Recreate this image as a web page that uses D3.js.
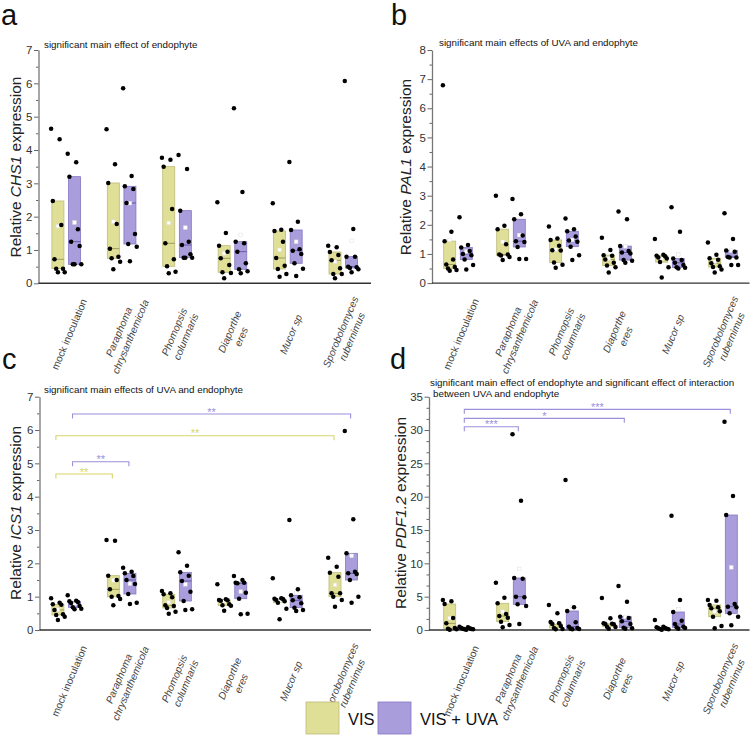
<!DOCTYPE html>
<html>
<head>
<meta charset="utf-8">
<script src="https://cdn.jsdelivr.net/npm/d3@7"></script>
<style>
body { margin: 0; background: #fff; }
svg text { font-family: "Liberation Sans", Arial, sans-serif; }
</style>
</head>
<body>
<svg id="fig" width="750" height="742"></svg>
<script>
var svg = d3.select('svg#fig');

// categories and tick labels
var categories = ["mock", "paraphoma", "phomopsis", "diaporthe", "mucor", "sporobolomyces"];
var category_lines = [
  ["mock inoculation"],
  ["Paraphoma", "chrysanthemicola"],
  ["Phomopsis", "columnaris"],
  ["Diaporthe", "eres"],
  ["Mucor sp"],
  ["Sporobolomyces", "rubernimus"]
];
var series_names = ["VIS", "VIS + UVA"];

// a: CHS1
var chs1_vis = [
  [4.64, 4.32, 2.47, 1.75, 0.72, 0.44, 0.44, 0.33, 0.33],
  [4.62, 3.57, 3.01, 1.78, 1.04, 0.8, 0.75, 0.65, 0.42],
  [3.77, 3.71, 3.5, 2.23, 1.2, 0.72, 0.51, 0.35, 0.3],
  [2.43, 1.51, 1.13, 0.95, 0.75, 0.55, 0.33, 0.31, 0.15],
  [2.4, 1.61, 1.57, 1.25, 0.76, 0.53, 0.43, 0.28, 0.2],
  [1.13, 1.08, 0.94, 0.85, 0.69, 0.45, 0.28, 0.28, 0.15]
];
var chs1_uva = [
  [3.89, 3.63, 3.2, 1.62, 1.25, 1.12, 0.57, 0.57, 0.57],
  [5.85, 3.22, 2.91, 2.83, 2.41, 1.48, 1.18, 1.1, 0.66],
  [3.85, 3.43, 2.18, 1.25, 1.15, 0.87, 0.77, 0.77, 0.77],
  [5.25, 2.74, 1.25, 1.2, 0.95, 0.6, 0.42, 0.36, 0.3],
  [3.64, 1.85, 1.6, 1.02, 0.98, 0.88, 0.6, 0.44, 0.22],
  [6.07, 1.63, 0.8, 0.8, 0.5, 0.48, 0.46, 0.42, 0.33]
];

// b: PAL1
var pal1_vis = [
  [6.79, 1.76, 1.44, 0.81, 0.64, 0.55, 0.5, 0.45, 0.42],
  [3.0, 1.97, 1.85, 1.33, 0.98, 0.98, 0.95, 0.9, 0.79],
  [1.94, 1.53, 1.48, 1.28, 1.13, 1.12, 0.71, 0.63, 0.53],
  [1.56, 1.14, 0.96, 0.94, 0.81, 0.7, 0.6, 0.54, 0.36],
  [1.51, 0.97, 0.94, 0.92, 0.88, 0.84, 0.72, 0.54, 0.19],
  [1.39, 0.97, 0.85, 0.8, 0.68, 0.58, 0.55, 0.47, 0.36]
];
var pal1_uva = [
  [2.26, 1.31, 1.22, 1.1, 1.0, 0.96, 0.81, 0.62, 0.47],
  [2.89, 2.36, 2.19, 1.63, 1.44, 1.41, 1.24, 0.83, 0.83],
  [2.22, 1.85, 1.78, 1.6, 1.46, 1.42, 1.25, 0.96, 0.79],
  [2.46, 2.19, 1.27, 1.1, 1.05, 1.02, 0.79, 0.77, 0.7],
  [2.6, 1.76, 0.84, 0.79, 0.7, 0.62, 0.54, 0.53, 0.5],
  [2.4, 1.51, 1.12, 1.08, 0.9, 0.88, 0.88, 0.62, 0.62]
];

// c: ICS1
var ics1_vis = [
  [0.95, 0.82, 0.77, 0.76, 0.6, 0.47, 0.45, 0.4, 0.3],
  [2.7, 2.68, 1.63, 1.5, 1.22, 1.02, 1.0, 0.93, 0.74],
  [1.17, 1.1, 1.07, 0.98, 0.74, 0.72, 0.66, 0.55, 0.49],
  [1.37, 0.92, 0.9, 0.89, 0.88, 0.77, 0.74, 0.73, 0.58],
  [1.55, 0.95, 0.94, 0.93, 0.9, 0.86, 0.82, 0.64, 0.32],
  [2.17, 1.9, 1.72, 1.6, 1.1, 1.1, 1.0, 0.9, 0.7]
];
var ics1_uva = [
  [1.04, 0.88, 0.86, 0.84, 0.81, 0.72, 0.68, 0.64, 0.62],
  [1.87, 1.75, 1.7, 1.62, 1.5, 1.38, 1.08, 0.82, 0.78],
  [2.33, 1.93, 1.73, 1.63, 1.47, 1.15, 0.87, 0.62, 0.6],
  [1.62, 1.5, 1.42, 1.42, 1.4, 1.12, 0.94, 0.49, 0.47],
  [3.3, 1.22, 1.04, 0.98, 0.89, 0.8, 0.67, 0.6, 0.57],
  [5.97, 3.32, 2.3, 1.75, 1.7, 1.68, 1.5, 1.0, 0.82]
];
var ics1_brackets = [
  ["uva", 0, 5, 6.48, "**"],
  ["vis", 0, 5, 5.83, "**"],
  ["uva", 0, 1, 5.05, "**"],
  ["vis", 0, 1, 4.68, "**"]
];

// d: PDF1.2
var pdf12_vis = [
  [4.5, 4.3, 3.9, 1.8, 1.0, 0.3, 0.2, 0.1, 0.05],
  [7.1, 4.85, 4.0, 2.4, 2.1, 1.85, 1.25, 0.75, 0.4],
  [3.75, 2.5, 1.2, 1.0, 0.9, 0.6, 0.3, 0.15, 0.1],
  [4.8, 1.75, 1.0, 0.95, 0.9, 0.85, 0.5, 0.45, 0.2],
  [1.5, 0.5, 0.4, 0.3, 0.25, 0.2, 0.15, 0.1, 0.05],
  [4.5, 4.4, 3.75, 3.4, 3.25, 2.8, 2.0, 0.6, 0.25]
];
var pdf12_uva = [
  [0.5, 0.4, 0.3, 0.25, 0.2, 0.15, 0.1, 0.1, 0.05],
  [29.35, 19.4, 7.8, 7.7, 5.0, 4.9, 3.85, 3.6, 0.9],
  [22.5, 3.4, 2.85, 1.15, 0.5, 0.3, 0.2, 0.15, 0.1],
  [6.6, 4.25, 2.0, 1.8, 1.3, 0.9, 0.35, 0.25, 0.2],
  [17.15, 4.5, 2.7, 1.4, 0.9, 0.5, 0.4, 0.3, 0.2],
  [31.25, 20.1, 17.25, 3.9, 3.5, 3.4, 2.5, 2.0, 0.7]
];
var pdf12_brackets = [
  ["uva", 0, 5, 33.1, "***"],
  ["uva", 0, 3, 31.75, "*"],
  ["uva", 0, 1, 30.5, "***"]
];

var colors = {
  vis: {fill: "#e0df98", stroke: "#bdbb78", median: "#8f8d4c", mark: "#d8d66c"},
  uva: {fill: "#aa9ddb", stroke: "#8576c2", median: "#54479a", mark: "#9c8fdc"}
};

svg.append('rect').attr('width', 750).attr('height', 742).attr('fill', '#fff');

function stats(values){
  var s = values.slice().sort(d3.ascending);
  return {q1: d3.quantile(s, 0.25), med: d3.quantile(s, 0.5),
          q3: d3.quantile(s, 0.75), mean: d3.mean(s)};
}

function draw_panel(p){
  var g = svg.append('g');
  var x = d3.scaleBand().domain(categories).range(p.xrange);
  var y = d3.scaleLinear().domain(p.ydomain).range(p.yrange);
  var base = p.yrange[0];

  // y axis, minor then major ticks
  g.append('g').attr('transform', 'translate(' + p.left + ',0)')
    .call(d3.axisLeft(y).tickValues(p.minor).tickSize(2.5).tickSizeOuter(0).tickFormat(''))
    .call(function(a){ a.select('.domain').remove(); a.selectAll('line').attr('stroke', '#666'); });
  var ya = g.append('g').attr('transform', 'translate(' + p.left + ',0)')
    .call(d3.axisLeft(y).tickValues(p.major).tickFormat(d3.format('d'))
      .tickSize(4.5).tickSizeOuter(0).tickPadding(1.5));
  ya.select('.domain').attr('stroke', '#777').attr('stroke-width', 1.3);
  ya.selectAll('line').attr('stroke', '#666');
  ya.selectAll('text').attr('font-size', 11.5).attr('fill', '#333')
    .attr('font-family', '"Liberation Sans", Arial, sans-serif');

  // x axis line
  g.append('line').attr('x1', p.left).attr('x2', p.xrange[1])
    .attr('y1', base).attr('y2', base).attr('stroke', '#333').attr('stroke-width', 1.4);

  // category labels, rotated, centred lines
  category_lines.forEach(function(lines, i){
    var lg = g.append('g').attr('transform', 'translate(' + (x(categories[i]) + x.bandwidth() / 2 + 3) +
      ',' + (base + 51) + ') rotate(-67)');
    lines.forEach(function(t, j){
      lg.append('text').attr('text-anchor', 'middle')
        .attr('y', (j - (lines.length - 1) / 2) * 12.5).attr('dy', '0.35em')
        .attr('font-size', 10.2).attr('fill', '#444')
        .attr('font-style', i == 0 ? 'normal' : 'italic')
        .text(t);
    });
  });

  // boxes, means and points
  var series = [["vis", p.vis, -8.3], ["uva", p.uva, 8.3]];
  series.forEach(function(sr){
    var key = sr[0], data = sr[1], off = sr[2], c = colors[key];
    data.forEach(function(vals, i){
      var st = stats(vals);
      var cx = x(categories[i]) + x.bandwidth() / 2 + off;
      g.append('rect').attr('x', cx - 6).attr('width', 12)
        .attr('y', y(st.q3)).attr('height', Math.max(0.8, y(st.q1) - y(st.q3)))
        .attr('fill', c.fill).attr('stroke', c.stroke).attr('stroke-width', 0.8);
      g.append('line').attr('x1', cx - 6).attr('x2', cx + 6)
        .attr('y1', y(st.med)).attr('y2', y(st.med))
        .attr('stroke', c.median).attr('stroke-width', 0.8);
      g.append('rect').attr('x', cx - 1.8).attr('y', y(st.mean) - 1.8)
        .attr('width', 3.6).attr('height', 3.6)
        .attr('fill', '#fff').attr('stroke', '#ddd').attr('stroke-width', 0.5);
      g.selectAll(null).data(vals).enter().append('circle')
        .attr('cx', function(d, k){ return cx + ((k * 5) % 9 - 4) * 1.7; })
        .attr('cy', function(d){ return y(d); })
        .attr('r', 2.25).attr('fill', '#000');
    });
  });

  // significance brackets
  (p.brackets || []).forEach(function(b){
    var off = b[0] == "vis" ? -8.3 : 8.3;
    var x1 = x(categories[b[1]]) + x.bandwidth() / 2 + off - 2;
    var x2 = x(categories[b[2]]) + x.bandwidth() / 2 + off - 1;
    var yl = y(b[3]);
    var col = colors[b[0]].mark;
    g.append('path').attr('d', 'M' + x1 + ',' + (yl + 4.5) + 'V' + yl + 'H' + x2 + 'V' + (yl + 4.5))
      .attr('fill', 'none').attr('stroke', col).attr('stroke-width', 1.1);
    g.append('text').attr('x', (x1 + x2) / 2).attr('y', yl + 1.5)
      .attr('text-anchor', 'middle').attr('font-size', 11).attr('fill', col).text(b[4]);
  });

  // subtitle
  p.title.forEach(function(t, j){
    g.append('text').attr('x', p.title_x[j]).attr('y', p.title_y + j * 11.3)
      .attr('font-size', 9.8).attr('fill', '#111').text(t);
  });

  // y label with italic gene name
  var yl = g.append('text').attr('transform', 'translate(' + p.ylabel_x + ',' + p.ylabel_y + ') rotate(-90)')
    .attr('text-anchor', 'middle').attr('font-size', 15.5).attr('fill', '#222');
  yl.append('tspan').text('Relative ');
  yl.append('tspan').attr('font-style', 'italic').text(p.gene);
  yl.append('tspan').text(' expression');

  // panel letter
  g.append('text').attr('x', p.letter_x).attr('y', p.letter_y)
    .attr('font-size', 29).attr('fill', '#111').text(p.letter);
}

function minor_ticks(top, step, skip){
  return d3.range(step, top, step).filter(function(v, i){ return (i + 1) % skip != 0; });
}

draw_panel({
  left: 38.5, xrange: [38.5, 371], ydomain: [0, 7], yrange: [283.3, 50],
  major: d3.range(0, 8), minor: d3.range(0.5, 7, 1),
  vis: chs1_vis, uva: chs1_uva, gene: "CHS1",
  title: ["significant main effect of endophyte"], title_x: [44], title_y: 48,
  ylabel_x: 20.5, ylabel_y: 167, letter: "a", letter_x: 1, letter_y: 25
});
draw_panel({
  left: 432, xrange: [431.5, 749.5], ydomain: [0, 8], yrange: [283.1, 50],
  major: d3.range(0, 9), minor: d3.range(0.5, 8, 1),
  vis: pal1_vis, uva: pal1_uva, gene: "PAL1",
  title: ["significant main effects of UVA and endophyte"], title_x: [439], title_y: 46,
  ylabel_x: 411, ylabel_y: 167, letter: "b", letter_x: 391, letter_y: 25
});
draw_panel({
  left: 39.5, xrange: [38.5, 371], ydomain: [0, 7], yrange: [630, 396.7],
  major: d3.range(0, 8), minor: d3.range(0.5, 7, 1),
  vis: ics1_vis, uva: ics1_uva, gene: "ICS1", brackets: ics1_brackets,
  title: ["significant main effects of UVA and endophyte"], title_x: [44], title_y: 393,
  ylabel_x: 20.5, ylabel_y: 513, letter: "c", letter_x: 2, letter_y: 369
});
draw_panel({
  left: 429, xrange: [431.5, 749.5], ydomain: [0, 35], yrange: [630, 396.7],
  major: d3.range(0, 40, 5), minor: minor_ticks(35, 5 / 3, 3),
  vis: pdf12_vis, uva: pdf12_uva, gene: "PDF1.2", brackets: pdf12_brackets,
  title: ["significant main effect of endophyte and significant effect of interaction",
          "between UVA and endophyte"], title_x: [430, 433], title_y: 386,
  ylabel_x: 406, ylabel_y: 513, letter: "d", letter_x: 390, letter_y: 369
});

// legend
var legend = svg.append('g').selectAll('g').data(series_names).enter().append('g')
  .attr('transform', function(d, i){ return 'translate(' + (306 + i * 72) + ',702)'; });
legend.append('rect').attr('width', 33).attr('height', 32)
  .attr('fill', function(d, i){ return i == 0 ? colors.vis.fill : colors.uva.fill; })
  .attr('stroke', function(d, i){ return i == 0 ? colors.vis.stroke : colors.uva.stroke; })
  .attr('stroke-width', 0.8);
legend.append('text').attr('x', 42).attr('y', 23).attr('font-size', 16.5).attr('fill', '#111')
  .text(function(d){ return d; });
</script>
</body>
</html>
